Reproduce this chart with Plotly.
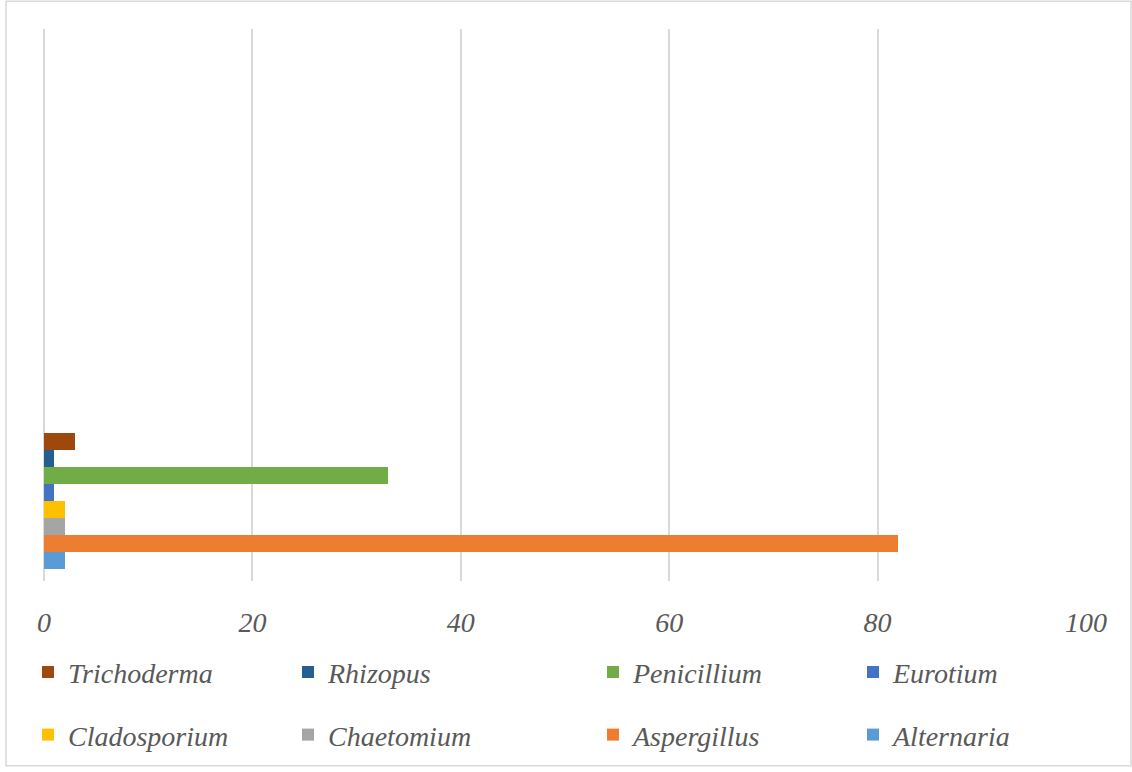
import plotly.graph_objects as go

# Data (series drawn bottom-to-top)
genera = ["Alternaria", "Aspergillus", "Chaetomium", "Cladosporium",
          "Eurotium", "Penicillium", "Rhizopus", "Trichoderma"]
values = [2, 82, 2, 2, 1, 33, 1, 3]
colors = ["#5B9BD5", "#ED7D31", "#A5A5A5", "#FFC000",
          "#4472C4", "#70AD47", "#255E91", "#9E480E"]
category = [0]
x_ticks = [0, 20, 40, 60, 80, 100]

# legend placement (pixel column / row) for each genus
legend_col_px = {"Trichoderma": 28, "Rhizopus": 288, "Penicillium": 593, "Eurotium": 853,
                 "Cladosporium": 28, "Chaetomium": 288, "Aspergillus": 593, "Alternaria": 853}
legend_row_px = {"Trichoderma": 677, "Rhizopus": 677, "Penicillium": 677, "Eurotium": 677,
                 "Cladosporium": 740, "Chaetomium": 740, "Aspergillus": 740, "Alternaria": 740}

W, H = 1132, 772
ML, MR, MT, MB = 44, 46, 29, 187
PW, PH = W - ML - MR, H - MT - MB

font_family = "'Liberation Serif', 'Times New Roman', 'DejaVu Serif', serif"
text_color = "#595959"

fig = go.Figure()
layout_legends = {}
for i, (g, v, c) in enumerate(zip(genera, values, colors)):
    lname = "legend" if i == 0 else f"legend{i+1}"
    fig.add_trace(go.Bar(
        y=category, x=[v], name=g, orientation="h",
        marker=dict(color=c, line=dict(width=0)),
        legend=lname, hoverinfo="x+name",
    ))
    layout_legends[lname] = dict(
        x=(legend_col_px[g] - ML) / PW,
        y=(MT + PH - legend_row_px[g]) / PH,
        xanchor="left", yanchor="middle",
        bgcolor="rgba(0,0,0,0)", borderwidth=0,
        font=dict(family=font_family, size=28, color=text_color, style="italic"),
        itemclick=False,
    )

fig.update_layout(
    width=W, height=H,
    margin=dict(l=ML, r=MR, t=MT, b=MB),
    paper_bgcolor="white", plot_bgcolor="white",
    font=dict(family=font_family, size=28, color=text_color, style="italic"),
    barmode="group", bargap=0, bargroupgap=0,
    showlegend=True,
    **layout_legends,
)

fig.update_xaxes(
    range=[0, 100], tickvals=x_ticks, ticktext=[str(t) for t in x_ticks],
    showgrid=True, gridcolor="#D9D9D9", gridwidth=1.5,
    zeroline=True, zerolinecolor="#D9D9D9", zerolinewidth=1.5,
    showline=False,
    ticks="outside", ticklen=16, tickcolor="rgba(0,0,0,0)",
    tickfont=dict(family=font_family, size=28, color=text_color, style="italic"),
)
fig.update_yaxes(
    range=[-0.591, 3.467], showgrid=False, zeroline=False,
    showticklabels=False, showline=False, ticks="",
)

# outer chart border
fig.add_shape(type="rect", xref="paper", yref="paper",
              x0=(6 - ML) / PW, x1=(1131 - ML) / PW,
              y0=(MT + PH - 771) / PH, y1=(MT + PH - 1) / PH,
              line=dict(color="#D9D9D9", width=1.5), fillcolor="rgba(0,0,0,0)",
              layer="below")

fig.write_html("out.html")
